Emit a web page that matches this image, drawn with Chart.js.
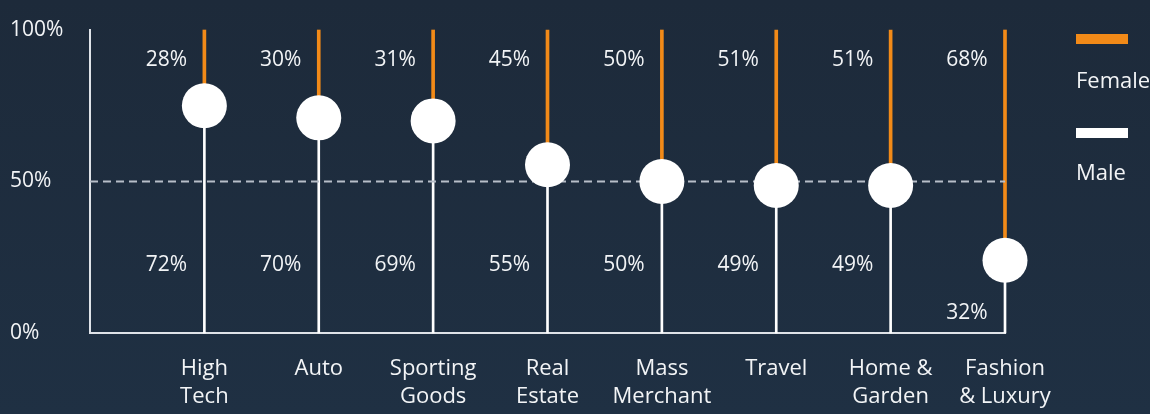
<!DOCTYPE html>
<html><head><meta charset="utf-8">
<script src="https://cdn.jsdelivr.net/npm/chart.js@4/dist/chart.umd.min.js"></script>
<style>
html,body{margin:0;padding:0;width:1150px;height:414px;overflow:hidden;background:linear-gradient(#1d2a3a,#1f3043);}
#wrap{width:1150px;height:414px;position:relative}
</style></head><body><div id="wrap"><canvas id="c"></canvas></div>
<script>
const categories = [["High","Tech"],["Auto"],["Sporting","Goods"],["Real","Estate"],["Mass","Merchant"],["Travel"],["Home &","Garden"],["Fashion","& Luxury"]];
const femalePct = [28,30,31,45,50,51,51,68];
const malePct = [72,70,69,55,50,49,49,32];
const dividerPos = [75,71,70,55.5,50,48.7,48.7,24];
const yTicks = [0,50,100];
const parity = 50;

const ORANGE = '#f28a18';
const WHITE = '#ffffff';
const AXIS = '#dfe3e8';
const FONT = "'Open Sans', sans-serif";

const labelPlugin = {
  id: 'labels',
  afterDatasetsDraw(chart) {
    const {ctx, scales: {x, y}} = chart;
    ctx.save();
    ctx.fillStyle = '#f2f4f6';
    ctx.font = "21px " + FONT;
    ctx.textAlign = 'center';
    ctx.textBaseline = 'middle';
    categories.forEach((c, i) => {
      const px = x.getPixelForValue(i + 1) - 38;
      ctx.fillText(femalePct[i] + '%', px, y.getPixelForValue(90));
      const mv = dividerPos[i] > 40 ? 22.5 : 6.6;
      ctx.fillText(malePct[i] + '%', px, y.getPixelForValue(mv));
    });
    ctx.restore();
  }
};

const legendPlugin = {
  id: 'customLegend',
  afterDraw(chart) {
    const {ctx, chartArea} = chart;
    const lx = chartArea.right + 71;
    ctx.save();
    ctx.fillStyle = ORANGE;
    ctx.fillRect(lx, 34, 52, 10);
    ctx.fillStyle = WHITE;
    ctx.fillRect(lx, 128, 52, 10);
    ctx.fillStyle = '#f2f4f6';
    ctx.font = "22px " + FONT;
    ctx.textAlign = 'left';
    ctx.textBaseline = 'alphabetic';
    ctx.fillText('Female', lx, 88);
    ctx.fillText('Male', lx, 180);
    ctx.restore();
  }
};

new Chart(document.getElementById('c'), {
  data: {
    datasets: [
      {type: 'scatter', label: 'Divider', data: dividerPos.map((v, i) => ({x: i + 1, y: v})),
       pointRadius: 22.5, pointHoverRadius: 22.5, backgroundColor: WHITE, borderColor: WHITE, borderWidth: 0, order: 0, clip: false},
      {type: 'line', label: 'Parity', data: [{x: 0, y: parity}, {x: categories.length, y: parity}],
       borderColor: '#b7bec8', borderWidth: 2, borderDash: [8, 5], pointRadius: 0, order: 1, clip: false},
      {type: 'bar', label: 'Female', data: dividerPos.map((v, i) => ({x: i + 1, y: [v, 100]})),
       backgroundColor: ORANGE, barThickness: 3, grouped: false, order: 2, clip: false},
      {type: 'bar', label: 'Male', data: dividerPos.map((v, i) => ({x: i + 1, y: [0, v]})),
       backgroundColor: WHITE, barThickness: 2, grouped: false, order: 2, clip: false}
    ]
  },
  options: {
    responsive: true,
    maintainAspectRatio: false,
    animation: false,
    devicePixelRatio: 1,
    layout: {padding: {left: 10, top: 30, right: 145, bottom: 0}},
    plugins: {legend: {display: false}, tooltip: {enabled: false}},
    scales: {
      x: {
        type: 'linear', min: 0, max: categories.length, offset: false,
        grid: {display: false, drawTicks: false},
        border: {display: true, color: AXIS, width: 2},
        afterBuildTicks(scale) { scale.ticks = categories.map((c, i) => ({value: i + 1})); },
        afterFit(scale) { scale.height = 81; },
        ticks: {
          autoSkip: false, maxRotation: 0, padding: 22,
          color: '#f2f4f6', font: {family: FONT, size: 22, lineHeight: 1.27},
          callback: (v) => categories[v - 1] || ''
        }
      },
      y: {
        min: 0, max: 100,
        grid: {display: false, drawTicks: false},
        border: {display: true, color: AXIS, width: 2},
        afterBuildTicks(scale) { scale.ticks = yTicks.map(v => ({value: v})); },
        afterFit(scale) { scale.width = 80; },
        ticks: {
          crossAlign: 'far', padding: 10,
          color: '#f2f4f6', font: {family: FONT, size: 21},
          callback: (v) => v + '%'
        }
      }
    }
  },
  plugins: [labelPlugin, legendPlugin]
});
</script></body></html>
